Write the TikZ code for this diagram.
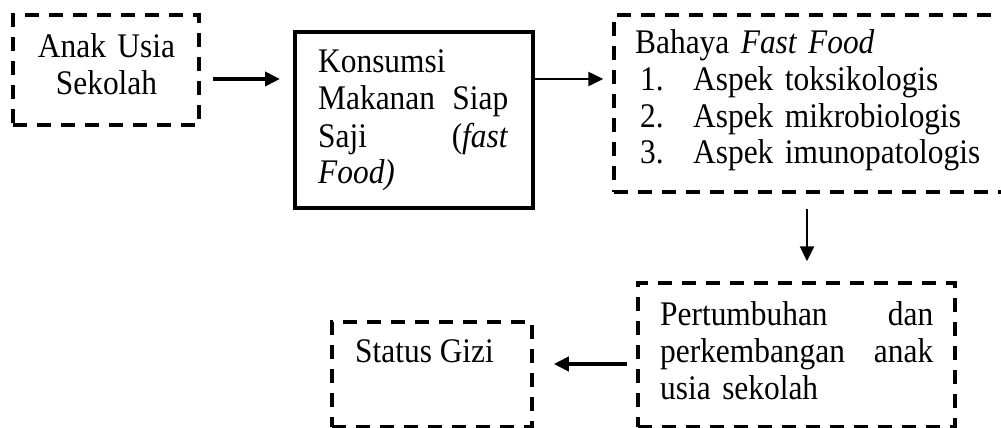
\documentclass[tikz,border=0pt]{standalone}
\usepackage{fontspec}
\setmainfont[FakeStretch=0.91]{Liberation Serif}
\usetikzlibrary{arrows.meta}
\newcommand\jfill{\hskip 0pt plus 1fill\relax}
\begin{document}
\begin{tikzpicture}[x=1pt,y=-1pt,
  every node/.style={inner sep=0pt},
  txt/.style={font=\fontsize{34.5}{37}\selectfont, anchor=base west, align=left},
  dbox/.style={draw, line width=3.5pt, dash pattern=on 14pt off 10pt},
  sbox/.style={draw, line width=4pt},
  arr/.style={-{Triangle[length=15pt,width=14pt]}},
  thickarr/.style={arr, line width=4pt},
  thinarr/.style={arr, line width=2.5pt},
]
\useasboundingbox (0,0) rectangle (1001,428);
\coordinate (r1) at (0,79);
\coordinate (r4) at (0,364);
\coordinate (c3) at (807,0);

% boxes
\node[dbox, minimum width=186pt, minimum height=110pt] (b1) at (106,70) {};
\node[sbox, minimum width=238pt, minimum height=176pt] (b2) at (414,120) {};
\begin{scope}
  \clip (0,0) rectangle (1001,428);
  \node[dbox, minimum width=400pt, minimum height=177pt] (b3) at (814,103.5) {};
\end{scope}
\node[dbox, minimum width=317pt, minimum height=144pt] (b4) at (796.5,355) {};
\node[dbox, minimum width=200pt, minimum height=105pt] (b5) at (432,374.5) {};

% texts
\node[txt, anchor=base, text width=186pt, align=center] (t1) at (106.5,58) {Anak Usia\\Sekolah};
\node[txt, text width=190pt] (t2) at (318,73)
  {Konsumsi\\ Makanan\jfill Siap\\ Saji\jfill(\textit{fast}\\ \textit{Food)}};
\node[txt, text width=350pt] (t3) at (635,53)
  {Bahaya \textit{Fast Food}\\
   \hspace*{5pt}\makebox[53pt][l]{1.}Aspek toksikologis\\
   \hspace*{5pt}\makebox[53pt][l]{2.}Aspek mikrobiologis\\
   \hspace*{5pt}\makebox[53pt][l]{3.}Aspek imunopatologis};
\node[txt, text width=273pt] (t4) at (660,325)
  {Pertumbuhan\jfill dan\\ perkembangan\jfill anak\\ usia sekolah};
\node[txt] (t5) at (355,362) {Status Gizi};

% connectors
\draw[thickarr, shorten <=12pt, shorten >=13pt] (b1.east |- r1) -- (b2.west |- r1);
\draw[thinarr, shorten <=0pt, shorten >=9pt] (b2.east |- r1) -- (b3.west |- r1);
\draw[thinarr, shorten <=15pt, shorten >=20pt] (b3.south -| c3) -- (b4.north -| c3);
\draw[thickarr, shorten <=9pt, shorten >=20pt] (b4.west |- r4) -- (b5.east |- r4);
\end{tikzpicture}
\end{document}
